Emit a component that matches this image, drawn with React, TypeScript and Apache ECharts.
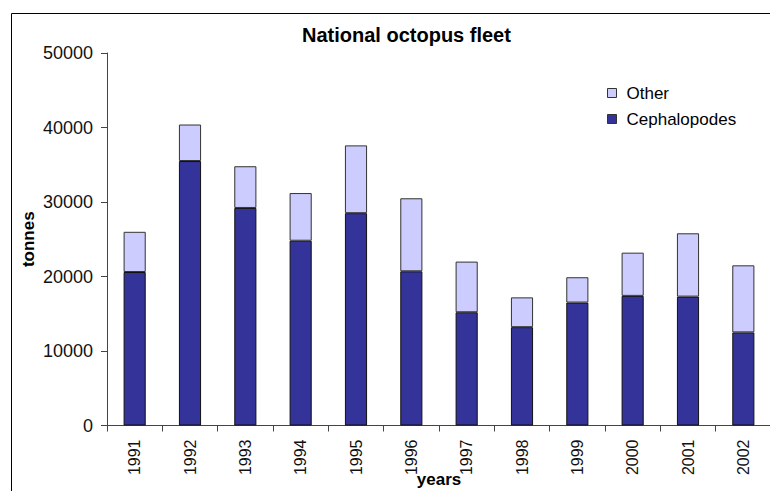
import React, { useEffect, useRef } from "react";
import * as echarts from "echarts";

const years = ["1991", "1992", "1993", "1994", "1995", "1996", "1997", "1998", "1999", "2000", "2001", "2002"];
const cephalopodes = [20600, 35500, 29200, 24800, 28500, 20700, 15200, 13200, 16500, 17400, 17300, 12500];
const other = [5400, 4900, 5600, 6400, 9100, 9800, 6800, 4000, 3400, 5800, 8500, 9000];
const yTicks = { min: 0, max: 50000, interval: 10000 };

const FONT = "'Liberation Sans', Arial, sans-serif";

export default function App() {
  const ref = useRef<HTMLDivElement>(null);
  useEffect(() => {
    if (!ref.current) return;
    const chart = echarts.init(ref.current, undefined, { renderer: "svg" });
    chart.setOption({
      animation: false,
      backgroundColor: "#ffffff",
      title: {
        text: "National octopus fleet",
        left: 297,
        top: 20,
        textStyle: { fontFamily: FONT, fontSize: 20, fontWeight: "bold", color: "#000" },
      },
      legend: {
        data: ["Other", "Cephalopodes"],
        orient: "vertical",
        left: 602,
        top: 78,
        itemWidth: 9,
        itemHeight: 9,
        itemGap: 6,
        icon: "rect",
        itemStyle: { borderColor: "#333", borderWidth: 1 },
        textStyle: { fontFamily: FONT, fontSize: 17, color: "#000", lineHeight: 20, padding: [0, 0, 0, 5] },
      },
      graphic: [
        {
          type: "rect",
          shape: { x: 11.5, y: 13.5, width: 800, height: 520 },
          style: { fill: "none", stroke: "#000", lineWidth: 1 },
          silent: true,
        },
      ],
      grid: { left: 107, right: -1, top: 53, bottom: 65.5, outerBoundsMode: "none", containLabel: false },
      xAxis: {
        type: "category",
        data: years,
        name: "years",
        nameLocation: "middle",
        nameGap: 45,
        nameMoveOverlap: false,
        nameTextStyle: { fontFamily: FONT, fontSize: 17, fontWeight: "bold", color: "#000" },
        axisLine: { lineStyle: { color: "#444", width: 1 } },
        axisTick: { show: true, length: 6, lineStyle: { color: "#444" } },
        axisLabel: { rotate: 90, margin: 14, fontFamily: FONT, fontSize: 16, color: "#111" },
      },
      yAxis: {
        type: "value",
        min: yTicks.min,
        max: yTicks.max,
        interval: yTicks.interval,
        name: "tonnes",
        nameLocation: "middle",
        nameGap: 70,
        nameMoveOverlap: false,
        nameTextStyle: { fontFamily: FONT, fontSize: 17, fontWeight: "bold", color: "#000" },
        axisLine: { show: true, lineStyle: { color: "#444", width: 1 } },
        axisTick: { show: true, length: 6, lineStyle: { color: "#444" } },
        splitLine: { show: false },
        axisLabel: { margin: 14, fontFamily: FONT, fontSize: 18, color: "#111", formatter: (v: number) => String(v) },
      },
      series: [
        {
          name: "Cephalopodes",
          type: "bar",
          stack: "total",
          data: cephalopodes,
          barWidth: "40%",
          itemStyle: { color: "#333399", borderColor: "#111", borderWidth: 1 },
        },
        {
          name: "Other",
          type: "bar",
          stack: "total",
          data: other,
          barWidth: "40%",
          itemStyle: { color: "#CCCCFF", borderColor: "#333", borderWidth: 1 },
        },
      ],
    });
    return () => chart.dispose();
  }, []);
  return (
    <div
      ref={ref}
      style={{ position: "fixed", left: 0, top: 0, width: 770, height: 491, background: "#fff" }}
    />
  );
}
